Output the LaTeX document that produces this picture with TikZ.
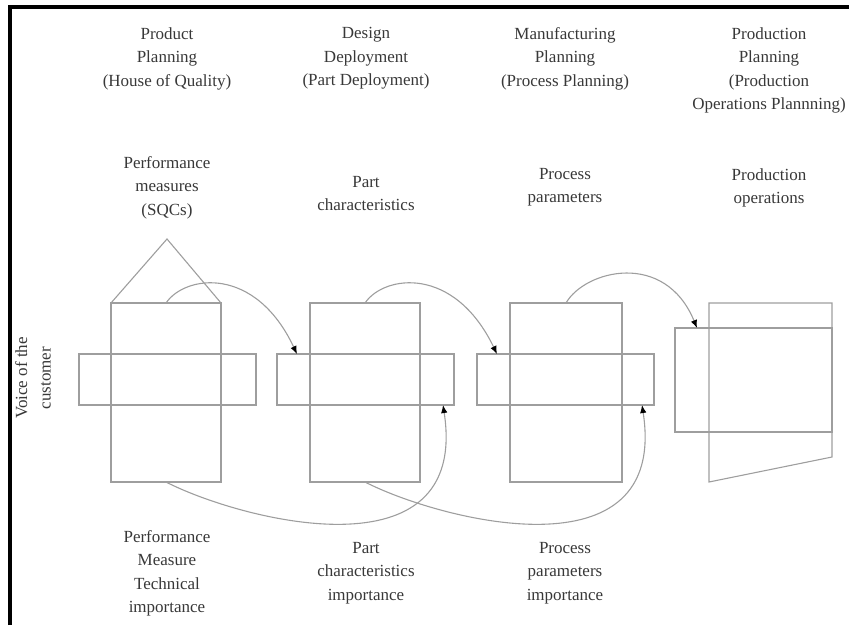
\documentclass[tikz,border=0pt]{standalone}
\usepackage{fontspec}
\setmainfont{Liberation Serif}
\usetikzlibrary{arrows.meta,calc}
\definecolor{linegray}{gray}{0.62}
\definecolor{txtgray}{gray}{0.22}
\begin{document}
\begin{tikzpicture}[x=1pt,y=-1pt,
  box/.style={draw=linegray, line width=1.1pt, inner sep=0pt, outer sep=0pt, anchor=north west},
  shp/.style={draw=linegray, line width=1.1pt},
  lbl/.style={align=center, inner sep=0pt, text=txtgray, font=\fontsize{17}{23.6}\selectfont, anchor=north},
  arr/.style={draw=linegray, line width=1.1pt, -{Latex[length=8pt,width=6.5pt,color=black]}}]
\useasboundingbox (0,0) rectangle (849,625);
% frame
\draw[line width=4pt, line cap=butt] (10,625) -- (10,6.5) -- (849,6.5);

% headers
\node[lbl] (hpp) at (167,27) {Product\\Planning\\(House of Quality)};
\node[lbl] (hdd) at (366,27) {Design\\Deployment\\(Part Deployment)};
\node[lbl] (hmp) at (565,27) {Manufacturing\\Planning\\(Process Planning)};
\node[lbl] (hprp) at (769,27) {Production\\Planning\\(Production\\Operations Plannning)};

% second row
\node[lbl] (rpm) at (167,156) {Performance\\measures\\(SQCs)};
\node[lbl] (rpc) at (366,176) {Part\\characteristics};
\node[lbl] (rpp) at (565,168) {Process\\parameters};
\node[lbl] (rpo) at (769,168) {Production\\operations};

% bottom
\node[lbl] (bpm) at (167,530) {Performance\\Measure\\Technical\\importance};
\node[lbl] (bpc) at (366,542) {Part\\characteristics\\importance};
\node[lbl] (bpp) at (565,542) {Process\\parameters\\importance};

% side label
\node[lbl, rotate=90, anchor=center] (voc) at (33,378) {Voice of the\\customer};

% shapes
\node[box, minimum width=177pt, minimum height=51pt] (h1) at (79,354) {};
\node[box, minimum width=110pt, minimum height=179pt] (v1) at (111,303) {};
\draw[shp] (v1.north west) -- (167,239) -- (v1.north east);

\node[box, minimum width=177pt, minimum height=51pt] (h2) at (277,354) {};
\node[box, minimum width=110pt, minimum height=179pt] (v2) at (310,303) {};

\node[box, minimum width=177pt, minimum height=51pt] (h3) at (477,354) {};
\node[box, minimum width=112pt, minimum height=179pt] (v3) at (510,303) {};

\draw[shp] (709,482) -- (709,303) -- (832,303) -- (832,457) -- cycle;
\node[box, minimum width=157pt, minimum height=104pt] (h4) at (675,328) {};

% connectors
\draw[arr] (v1.north) .. controls (185,275) and (255,265) .. ([xshift=20pt]h2.north west);
\draw[arr] (v2.north) .. controls (384,275) and (454,265) .. ([xshift=20pt]h3.north west);
\draw[arr] (v3.north) .. controls (585,270) and (665,250) .. ([xshift=22pt]h4.north west);
\draw[arr] (v1.south) .. controls (240,520) and (470,580) .. ([xshift=-11pt]h2.south east);
\draw[arr] (v2.south) .. controls (439,520) and (669,580) .. ([xshift=-12pt]h3.south east);
\end{tikzpicture}
\end{document}
